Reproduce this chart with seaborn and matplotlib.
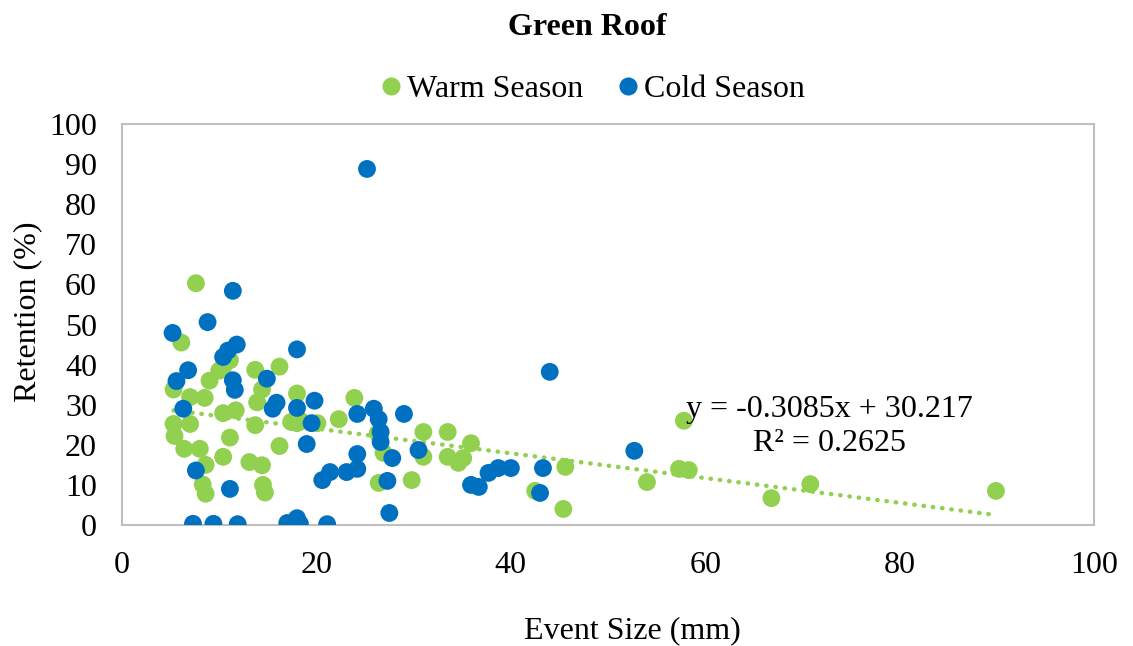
import numpy as np
import pandas as pd
import matplotlib
matplotlib.use("Agg")
import matplotlib.pyplot as plt
import seaborn as sns

title = "Green Roof"
x_label = "Event Size (mm)"
y_label = "Retention (%)"
series_names = ["Warm Season", "Cold Season"]
colors = ["#92D050", "#0070C0"]

warm_x = [7.6, 6.1, 5.3, 7.0, 8.5, 9.0, 10.0, 10.4, 11.1, 13.7, 16.2, 14.4, 13.9, 18.0,
          10.4, 11.7, 5.3, 5.4, 7.0, 6.4, 8.0, 8.6, 8.3, 8.6, 11.1, 10.4, 13.7, 13.1,
          14.4, 14.5, 14.7, 16.2, 17.4, 18.0, 18.4, 20.1, 22.3, 23.9, 26.3, 26.9, 31.0,
          31.0, 33.5, 33.5, 34.6, 35.1, 35.9, 29.8, 26.4, 42.5, 45.6, 45.4, 57.8, 54.0,
          57.3, 58.3, 66.8, 70.8, 89.9]
warm_y = [60.3, 45.5, 33.8, 31.9, 31.7, 36.0, 38.5, 39.4, 41.1, 38.7, 39.5, 33.8, 30.6, 32.8,
          27.9, 28.6, 25.2, 22.2, 25.2, 19.0, 19.0, 15.0, 10.1, 7.8, 21.8, 17.0, 24.9, 15.7,
          14.9, 10.0, 8.1, 19.7, 25.7, 25.4, 25.9, 25.4, 26.4, 31.7, 22.9, 18.0, 23.2,
          17.0, 23.2, 17.0, 15.5, 16.7, 20.4, 11.2, 10.5, 8.5, 14.5, 4.0, 26.0, 10.7,
          14.0, 13.7, 6.7, 10.2, 8.5]

cold_x = [5.2, 8.8, 6.8, 5.6, 6.3, 7.6, 11.1, 10.4, 10.9, 11.8, 11.4, 11.6, 11.4, 18.0,
          14.9, 15.9, 15.5, 18.0, 19.8, 19.5, 19.0, 7.3, 9.4, 11.9, 17.0, 18.0, 18.3,
          21.1, 25.2, 24.2, 25.9, 26.4, 26.6, 26.6, 29.0, 30.5, 27.8, 24.2, 24.2, 23.1,
          21.4, 20.6, 27.3, 27.5, 44.0, 35.9, 36.7, 37.7, 38.7, 40.0, 43.3, 43.0, 52.7]
cold_y = [47.9, 50.6, 38.6, 35.9, 29.0, 13.6, 9.0, 41.9, 43.5, 45.0, 36.1, 33.7, 58.4, 43.8,
          36.5, 30.5, 29.0, 29.2, 31.0, 25.4, 20.2, 0.3, 0.3, 0.2, 0.5, 1.7, 0.3,
          0.2, 88.8, 27.7, 29.0, 26.4, 23.2, 20.7, 27.7, 18.7, 16.7, 17.7, 14.0, 13.2,
          13.2, 11.2, 11.0, 3.0, 38.2, 10.0, 9.5, 13.0, 14.2, 14.2, 14.2, 8.0, 18.5]

trend_slope = -0.3085
trend_intercept = 30.217
trend_text = "y = -0.3085x + 30.217\nR² = 0.2625"
x_ticks = [0, 20, 40, 60, 80, 100]
y_ticks = [0, 10, 20, 30, 40, 50, 60, 70, 80, 90, 100]

df = pd.concat([
    pd.DataFrame({"x": warm_x, "y": warm_y, "Season": series_names[0]}),
    pd.DataFrame({"x": cold_x, "y": cold_y, "Season": series_names[1]}),
], ignore_index=True)

sns.set_style("white")
plt.rcParams["font.family"] = ["Liberation Serif", "DejaVu Serif"]
for k in ["text.color", "axes.labelcolor", "xtick.color", "ytick.color"]:
    plt.rcParams[k] = "black"

FS = 23

fig = plt.figure(figsize=(11.33, 6.46), dpi=100)
ax = fig.add_axes([0.1077, 0.1873, 0.8580, 0.6207])

sns.scatterplot(data=df, x="x", y="y", hue="Season", hue_order=series_names,
                palette=dict(zip(series_names, colors)), s=165, edgecolor="none",
                linewidth=0, alpha=1, ax=ax, legend=False, zorder=3)

tx = np.array([min(warm_x), max(warm_x)])
ax.plot(tx, trend_slope * tx + trend_intercept, color=colors[0], lw=3.2,
        linestyle=(0, (0.1, 2.0)), dash_capstyle="round", zorder=2)

ax.text(72.8, 24.6, trend_text, ha="center", va="center", fontsize=FS, linespacing=1.25,
        zorder=4)

ax.set_xlim(0, 100)
ax.set_ylim(0, 100)
ax.set_xticks(x_ticks)
ax.set_yticks(y_ticks)
ax.tick_params(axis="x", labelsize=FS, length=0, pad=18.5)
ax.tick_params(axis="y", labelsize=FS, length=0, pad=18)
ax.set_xlabel(x_label, fontsize=FS, labelpad=26, x=0.525)
ax.set_ylabel(y_label, fontsize=FS, labelpad=5, y=0.531)
for sp in ax.spines.values():
    sp.set_visible(True)
    sp.set_color("#BFBFBF")
    sp.set_linewidth(1.5)

fig.text(0.518, 0.958, title, ha="center", va="center", fontsize=FS, fontweight="bold")

handles = [plt.Line2D([], [], marker="o", linestyle="none", markersize=13,
                      markerfacecolor=c, markeredgecolor="none") for c in colors]
fig.legend(handles, series_names, loc="center", bbox_to_anchor=(0.521, 0.862), ncol=2,
           frameon=False, fontsize=FS, handletextpad=0.0, columnspacing=0.9,
           handlelength=1.0)

fig.savefig("out.png", dpi=100, facecolor="white")
